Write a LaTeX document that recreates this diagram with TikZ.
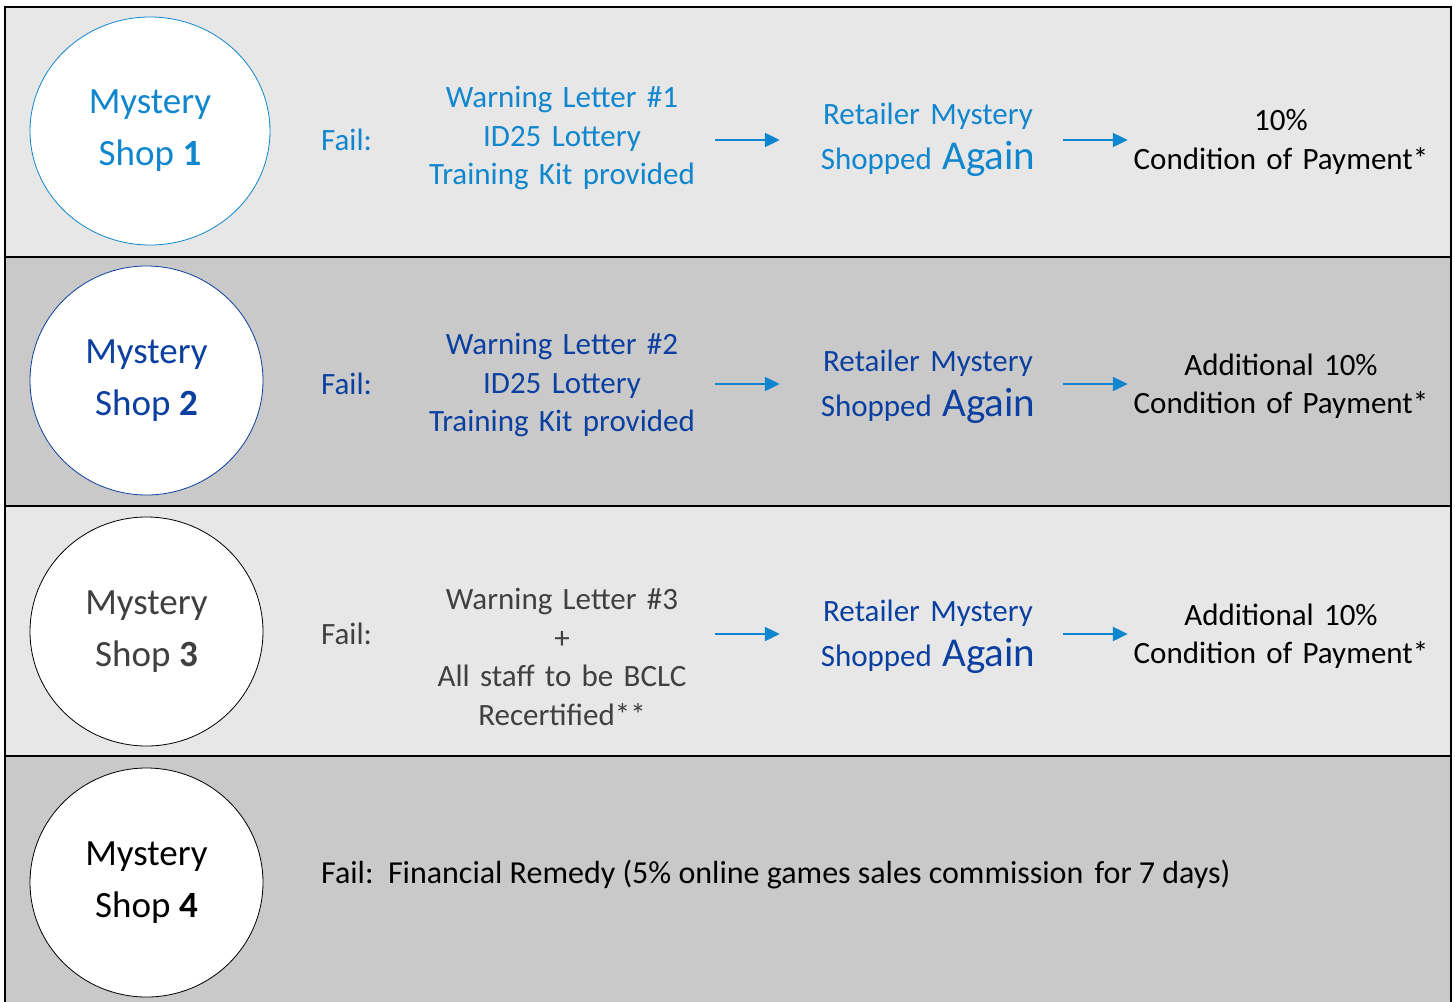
\documentclass[tikz,border=0pt]{standalone}
\usepackage{fontspec}
\setmainfont{Carlito}
\usetikzlibrary{arrows.meta,shapes.geometric}
\definecolor{lightband}{HTML}{E7E7E7}
\definecolor{darkband}{HTML}{C9C9C9}
\definecolor{skyblue}{HTML}{0F86CE}
\definecolor{deepblue}{HTML}{0B3FA0}
\definecolor{darkgrey}{HTML}{404040}
\tikzset{
  shop/.style={ellipse, fill=white, line width=0.8pt, inner sep=0pt,
    minimum width=233pt, minimum height=229pt, align=center,
    font=\fontsize{37}{52}\selectfont},
  txt/.style={inner sep=0pt, align=center, font=\fontsize{31}{38.5}\selectfont},
  warncol/.style={txt, text width=300pt},
  retcol/.style={txt, text width=240pt},
  rescol/.style={txt, text width=310pt},
  fail/.style={txt, anchor=west},
  flow/.style={line width=2.2pt, draw=skyblue, -{Triangle[length=15pt,width=14pt]}},
}
\newcommand{\bigagain}{{\fontsize{41}{42}\selectfont Again}}
\begin{document}
\begin{tikzpicture}[x=1pt,y=-1pt]
  \useasboundingbox (0,0) rectangle (1455,1001);
  % bands
  \foreach \r/\c in {0/lightband,1/darkband,2/lightband,3/darkband}
    \draw[fill=\c, line width=2pt] (5,7+249.5*\r) rectangle (1451,7+249.5*\r+249.5);

  % shop circles
  \node[shop, draw=skyblue, text=skyblue, minimum width=240pt, minimum height=228pt]
    (shop1) at (150,131) {Mystery\\Shop \textbf{1}};
  \node[shop, draw=deepblue, text=deepblue] (shop2) at (146.5,380.5) {Mystery\\Shop \textbf{2}};
  \node[shop, draw=black, text=darkgrey] (shop3) at (146.5,631.5) {Mystery\\Shop \textbf{3}};
  \node[shop, draw=black, text=black] (shop4) at (146.5,882.5) {Mystery\\Shop \textbf{4}};

  % row 1
  \node[fail, text=skyblue] (fail1) at (321,140) {Fail:};
  \node[warncol, text=skyblue] (warn1) at (562,138) {Warning Letter \#1\\ID25 Lottery\\Training Kit provided};
  \node[retcol, text=skyblue] (ret1) at (928,140) {Retailer Mystery\\[6pt]Shopped \bigagain};
  \node[rescol] (res1) at (1281,142) {10\%\\Condition of Payment*};
  \draw[flow, shorten <=3pt, shorten >=28pt] (fail1 -| warn1.east) -- (fail1 -| ret1.west);
  \draw[flow, shorten <=15pt, shorten >=-2pt] (fail1 -| ret1.east) -- (fail1 -| res1.west);

  % row 2
  \node[fail, text=deepblue] (fail2) at (321,384) {Fail:};
  \node[warncol, text=deepblue] (warn2) at (562,385) {Warning Letter \#2\\ID25 Lottery\\Training Kit provided};
  \node[retcol, text=deepblue] (ret2) at (928,387) {Retailer Mystery\\[6pt]Shopped \bigagain};
  \node[rescol] (res2) at (1281,386) {Additional 10\%\\Condition of Payment*};
  \draw[flow, shorten <=3pt, shorten >=28pt] (fail2 -| warn2.east) -- (fail2 -| ret2.west);
  \draw[flow, shorten <=15pt, shorten >=-2pt] (fail2 -| ret2.east) -- (fail2 -| res2.west);

  % row 3
  \node[fail, text=darkgrey] (fail3) at (321,634) {Fail:};
  \node[warncol, text=darkgrey] (warn3) at (562,657) {Warning Letter \#3\\+\\All staff to be BCLC\\Recertified**};
  \node[retcol, text=deepblue] (ret3) at (928,637) {Retailer Mystery\\[6pt]Shopped \bigagain};
  \node[rescol] (res3) at (1281,636) {Additional 10\%\\Condition of Payment*};
  \draw[flow, shorten <=3pt, shorten >=28pt] (fail3 -| warn3.east) -- (fail3 -| ret3.west);
  \draw[flow, shorten <=15pt, shorten >=-2pt] (fail3 -| ret3.east) -- (fail3 -| res3.west);

  % row 4
  \node[fail, font=\fontsize{32}{38}\selectfont] (fail4) at (321,875)
    {Fail:\ \ Financial Remedy (5\% online games sales commission\hspace{4pt} for 7 days)};
\end{tikzpicture}
\end{document}
